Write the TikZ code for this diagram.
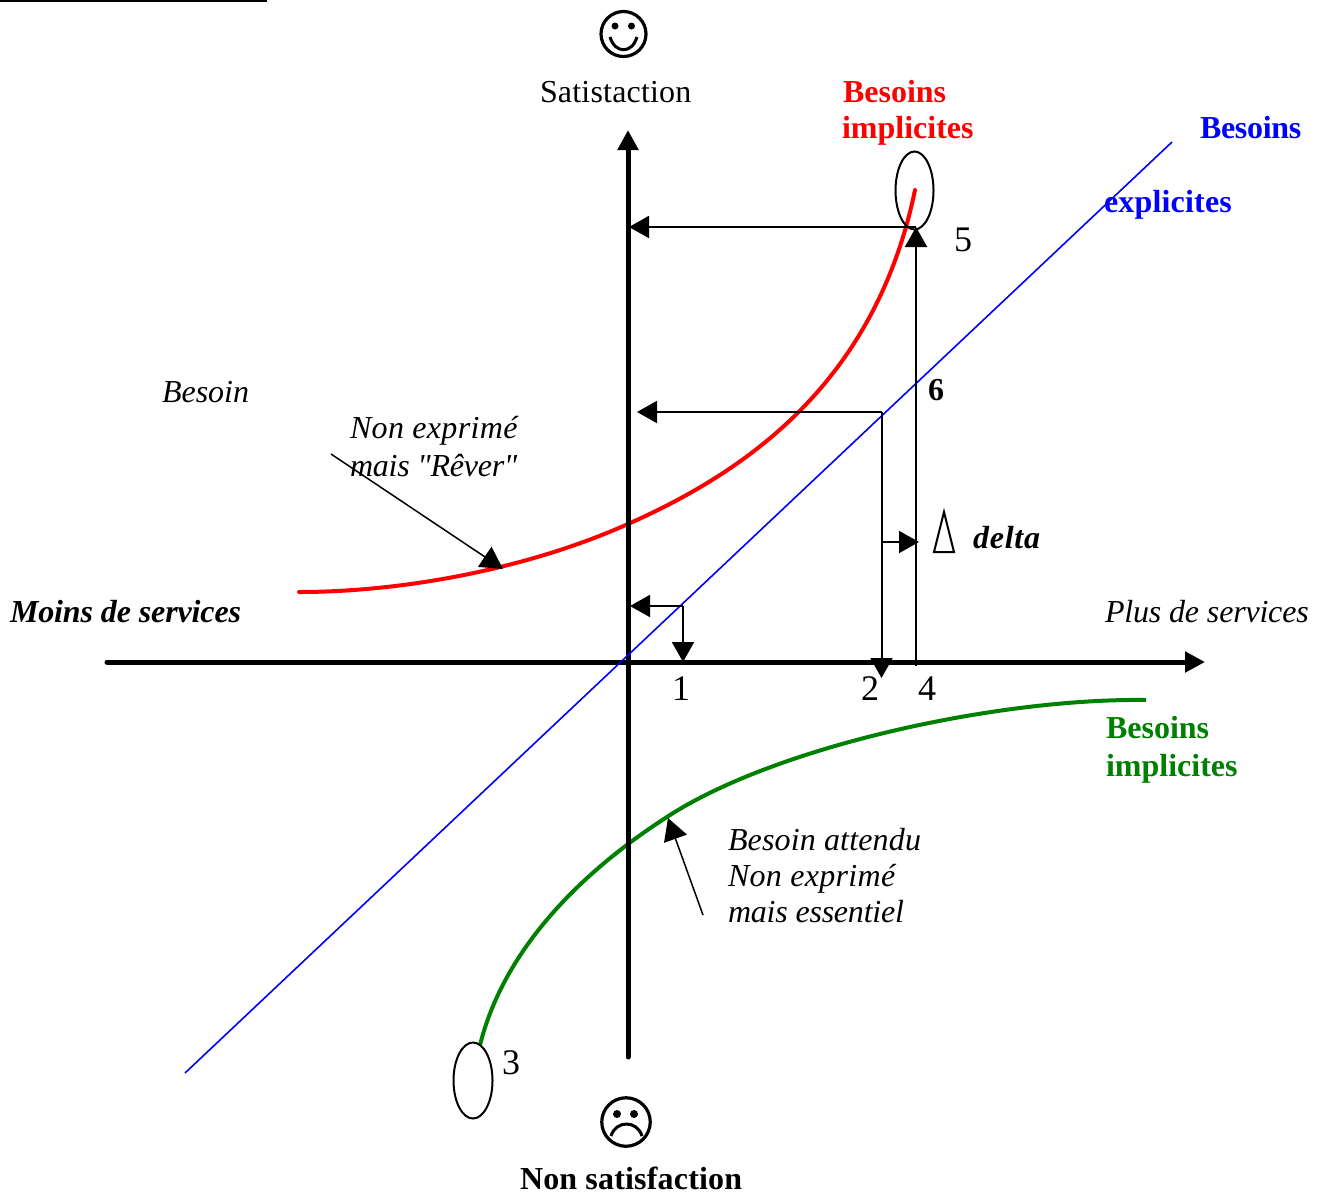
\documentclass[tikz,border=0pt]{standalone}
\usepackage{fontspec}
\setmainfont{Liberation Serif}[Ligatures=TeXOff]
\usetikzlibrary{arrows.meta}
\definecolor{gr}{RGB}{0,128,0}
\newcommand{\lsp}[1]{\addfontfeature{LetterSpace=#1}}
\tikzset{
  x=1pt,y=-1pt,
  txt/.style={anchor=base west,inner sep=0pt,outer sep=0pt,font=\fontsize{32}{36}\selectfont},
  dig/.style={anchor=base west,inner sep=0pt,outer sep=0pt,font=\fontsize{36}{40}\selectfont},
  axis/.style={line width=5pt,line cap=round,-{Triangle[length=20pt,width=20pt]}},
  thin arrow/.style={line width=2pt,-{Triangle[length=20pt,width=22pt]}},
  callout/.style={line width=1.5pt,-{Triangle[length=22pt,width=24pt]}},
  face/.style={draw,circle,line width=3.2pt,inner sep=0pt,minimum size=45pt},
}
\begin{document}
\begin{tikzpicture}
\useasboundingbox (0,0) rectangle (1324,1194);
\draw[line width=2pt] (0,1) -- (267,1);
% named points
\coordinate (hl) at (107,662); \coordinate (hr) at (1205,662);
\coordinate (vb) at (628,1057); \coordinate (vt) at (628,130);
\coordinate (bl) at (185,1073); \coordinate (br) at (1172,142);
\coordinate (a1) at (683,606); \coordinate (a1x) at (683,662); \coordinate (a1y) at (630,606);
\coordinate (a2) at (881.5,412); \coordinate (a2x) at (881.5,678); \coordinate (a2y) at (637,412);
\coordinate (a4) at (916,666); \coordinate (a4t) at (916,227); \coordinate (a4l) at (629,227);
\coordinate (d1) at (881.5,542); \coordinate (d2) at (919,542);
\coordinate (c1) at (331,454); \coordinate (c1e) at (503,569);
\coordinate (c2) at (703,915); \coordinate (c2e) at (668,818);
% curves
\draw[red,line width=4pt,line cap=round] (299,592) .. controls (400,592) and (525,570) .. (628,524) .. controls (745,472) and (875,384) .. (915,190);
\draw[gr,line width=4pt] (1146,700) .. controls (1000,698) and (780,745) .. (670,815) .. controls (620,847) and (510,925) .. (480,1045);
% axes
\draw[axis] (hl) -- (hr);
\draw[axis] (vb) -- (vt);
\draw[blue,line width=1.6pt] (bl) -- (br);
% arrows
\draw[thin arrow] (a1) -- (a1y);
\draw[thin arrow] (a1) -- (a1x);
\draw[thin arrow] (a2) -- (a2y);
\draw[thin arrow] (a2) -- (a2x);
\draw[thin arrow] (a4t) -- (a4l);
\draw[thin arrow] (a4) -- (a4t);
\draw[thin arrow] (d1) -- (d2);
\draw[callout] (c1) -- (c1e);
\draw[callout] (c2) -- (c2e);
% ovals
\draw[line width=2pt] (914.5,190.5) ellipse [x radius=19,y radius=39];
\draw[line width=2pt] (473,1080.5) ellipse [x radius=19.5,y radius=38];
\draw[line width=2pt] (934,552) -- (954,552) -- (944,512) -- cycle;
% smile
\node[face] (smile) at (623.5,34) {};
\fill (615,26) circle (3.5); \fill (631.5,26) circle (3.5);
\draw[line width=3pt] (610,37) .. controls (615,54) and (632,54) .. (637,37);
% frown
\node[face,minimum size=48.5pt] (frown) at (626,1122) {};
\fill (617,1114) circle (4); \fill (634,1114) circle (4);
\draw[line width=3pt] (611,1136) .. controls (616,1120) and (637,1120) .. (642,1136);
% texts
\node[txt] (t1) at (540,102) {\lsp{0.6}Satistaction};
\node[txt,red,font=\fontsize{32}{36}\selectfont\bfseries] (t2) at (843,102) {Besoins};
\node[txt,red,font=\fontsize{32}{36}\selectfont\bfseries] (t3) at (842,138) {implicites};
\node[txt,blue,font=\fontsize{32}{36}\selectfont\bfseries] (t4) at (1200,138) {\lsp{-1}Besoins};
\node[txt,blue,font=\fontsize{32}{36}\selectfont\bfseries] (t5) at (1104,212) {\lsp{0.6}explicites};
\node[dig] (n5) at (954,251) {5};
\node[txt,font=\fontsize{32}{36}\selectfont\bfseries] (n6) at (928,400) {6};
\node[txt,font=\fontsize{32}{36}\selectfont\itshape] (t6) at (162,402) {Besoin};
\node[txt,font=\fontsize{32}{36}\selectfont\itshape] (t7) at (350,438) {\lsp{1.1}Non exprimé};
\node[txt,font=\fontsize{32}{36}\selectfont\itshape] (t8) at (350,476) {\lsp{-0.8}mais "Rêver"};
\node[txt,font=\fontsize{32}{36}\selectfont\bfseries\itshape] (t9) at (973,548) {\lsp{2.5}delta};
\node[txt,font=\fontsize{32}{36}\selectfont\bfseries\itshape] (t10) at (10,622) {\lsp{-0.4}Moins de services};
\node[txt,font=\fontsize{32}{36}\selectfont\itshape] (t11) at (1105,622) {\lsp{-0.6}Plus de services};
\node[dig] (n1) at (672,700) {1};
\node[dig] (n2) at (861,700) {2};
\node[dig] (n4) at (918,700) {4};
\node[txt,gr,font=\fontsize{32}{36}\selectfont\bfseries] (t12) at (1106,738) {Besoins};
\node[txt,gr,font=\fontsize{32}{36}\selectfont\bfseries] (t13) at (1106,776) {implicites};
\node[txt,font=\fontsize{32}{36}\selectfont\itshape] (t14) at (728,850) {\lsp{0.5}Besoin attendu};
\node[txt,font=\fontsize{32}{36}\selectfont\itshape] (t15) at (728,886) {\lsp{1}Non exprimé};
\node[txt,font=\fontsize{32}{36}\selectfont\itshape] (t16) at (728,922) {\lsp{-0.7}mais essentiel};
\node[dig] (n3) at (502,1074) {3};
\node[txt,font=\fontsize{32}{36}\selectfont\bfseries] (t17) at (520,1189) {\lsp{0.6}Non satisfaction};
\end{tikzpicture}
\end{document}
